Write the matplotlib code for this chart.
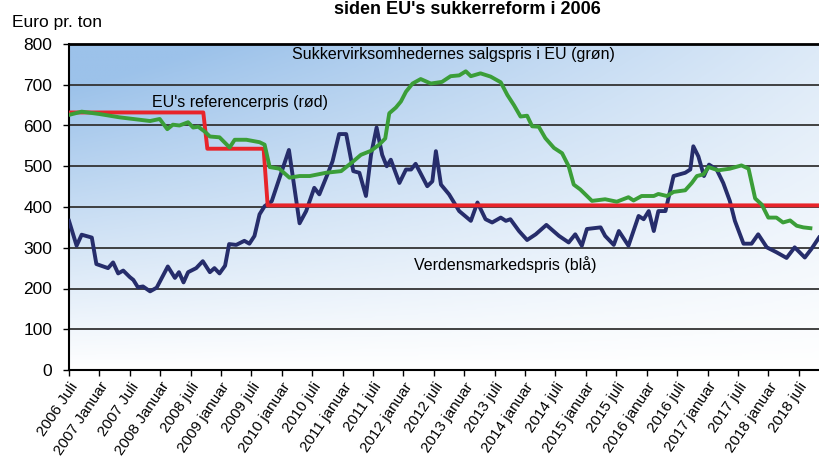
import numpy as np
import matplotlib
matplotlib.use('Agg')
from matplotlib import pyplot as plt
from matplotlib.colors import LinearSegmentedColormap

# maaneder efter 2006 juli
blaa_m = [0, 1.5, 2.5, 4.5, 5.4, 7.7, 8.7, 9.7, 10.7, 12, 12.7, 13.6, 14.6, 16, 17.3, 19.5,
          20.9, 21.7, 22.6, 23.5, 25.1, 26.4, 27.8, 28.7, 29.7, 30.8, 31.6, 33, 34.6, 35.6,
          36.6, 37.6, 38.6, 40, 43.4, 45.5, 46.8, 48.4, 49.4, 51, 52, 53.3, 54.7, 56.1, 57.3,
          58.6, 59.6, 60.7, 61.8, 62.7, 63.5, 65.2, 66.5, 67.5, 68.4, 70.7, 71.7, 72.4, 73.4,
          75, 77, 79.3, 80.6, 82.2, 83.5, 85.2, 86.2, 87.1, 88.8, 90.4, 92.1, 94.2, 96.7, 98.6,
          99.9, 101.2, 102.2, 104.9, 105.8, 107.5, 108.5, 110.4, 112.4, 113.4, 114.4, 115.4,
          116.3, 117.7, 119.3, 121.6, 122.6, 123.2, 124.2, 125.3, 126.3, 127.8, 129.1, 130.4,
          131.4, 133.1, 134.7, 136, 137.7, 139.6, 141.6, 143.2, 145.2, 146.5, 148]
blaa_v = [366, 305, 332, 325, 260, 250, 264, 237, 244, 228, 221, 203, 205, 193, 202, 254,
          226, 240, 215, 240, 250, 267, 240, 250, 237, 256, 309, 307, 317, 310,
          329, 382, 402, 414, 540, 360, 390, 447, 431, 480, 512, 579, 579, 488, 484,
          427, 528, 595, 528, 500, 516, 459, 492, 492, 506, 451, 463, 537, 455,
          431, 390, 366, 411, 370, 362, 374, 366, 370, 341, 319, 333, 356, 329, 313,
          333, 305, 346, 350, 329, 307, 341, 305, 378, 370, 390, 341,
          390, 390, 476, 484, 492, 549, 524, 476, 504, 492, 459, 415,
          366, 310, 310, 333, 301, 289, 275, 301, 276, 297, 325]

groen_m = [0, 2.5, 6.1, 10, 14, 16, 17.9, 19.4, 20.5, 21.8, 23.5, 24.5, 25.5, 26.8, 27.8,
           29.7, 31.7, 32.7, 35, 37.6, 38.6, 39.6, 41.5, 43.5, 45.5, 47.5, 50.7, 53.7, 56,
           57.6, 59.6, 61.2, 62.4, 63.2, 64.5, 65.5, 66.5, 67.8, 69.4, 71.4, 73.6, 75.3, 77,
           78.3, 79.3, 81.2, 83.2, 85.2, 86.5, 87.8, 89.1, 90.4, 91.4, 92.7, 94, 95.7, 97.3,
           98.6, 99.6, 100.9, 103.2, 105.8, 108.1, 110.4, 111.4, 113, 115.4, 116.3, 118, 119.3,
           121.6, 122.9, 123.9, 125.2, 126.2, 128.1, 130.4, 132.7, 134.1, 135.4, 136.7, 138,
           139.6, 140.9, 142.3, 143.6, 144.9, 146.3]
groen_v = [626, 634, 628, 620, 614, 611, 616, 591, 602, 600, 608, 595, 597, 585, 573,
           571, 546, 565, 565, 559, 553, 498, 494, 472, 476, 476, 484, 488, 511,
           528, 538, 553, 568, 630, 644, 659, 683, 703, 714, 703, 707, 721, 723,
           733, 721, 728, 720, 706, 675, 650, 622, 624, 598, 597, 569, 545, 532,
           500, 455, 443, 415, 419, 413, 424, 416, 427, 427, 432, 427, 437,
           441, 459, 476, 480, 498, 490, 494, 502, 494, 421, 406, 374,
           374, 362, 367, 354, 350, 348]

roed_m = [0, 26.5, 27.3, 38.4, 39.2, 148]
roed_v = [632, 632, 543, 543, 404, 404]

tick_labels = ['2006 Juli', '2007 Januar', '2007 Juli', '2008 Januar', '2008 juli',
               '2009 januar', '2009 juli', '2010 januar', '2010 juli', '2011 januar',
               '2011 juli', '2012 januar', '2012 juli', '2013 januar', '2013 juli',
               '2014 januar', '2014 juli', '2015 januar', '2015 juli', '2016 januar',
               '2016 juli', '2017 januar', '2017 juli', '2018 januar', '2018 juli']

plt.rcParams['font.family'] = ['Liberation Sans', 'DejaVu Sans']

fig = plt.figure(figsize=(8.19, 4.70), dpi=100)
ax = fig.add_axes([69 / 819, 1 - 370 / 470, 750 / 819, 326 / 470])

xmax = 148
# baggrund med blaa gradient
yy, xx = np.mgrid[0:1:200j, 0:1:300j]
b = np.clip(yy * (1 - 0.8 * xx) + 0.15 * yy, 0, 1)
cmap = LinearSegmentedColormap.from_list('bg', ['#ffffff', '#9cc2ea'])
ax.imshow(b, cmap=cmap, vmin=0, vmax=1, extent=[0, xmax, 0, 800], origin='lower',
          aspect='auto', zorder=0, interpolation='bilinear')

for v in range(100, 800, 100):
    ax.axhline(v, color='#333333', lw=1.3, zorder=1)

ax.plot(blaa_m, blaa_v, color='#262d6b', lw=2.8, zorder=3, solid_joinstyle='round')
ax.plot(roed_m, roed_v, color='#e8242a', lw=2.8, zorder=4)
ax.plot(groen_m, groen_v, color='#3b9e38', lw=2.8, zorder=5, solid_joinstyle='round')

ax.set_xlim(0, xmax)
ax.set_ylim(0, 800)
ax.set_yticks(range(0, 801, 100))
ax.set_xticks(range(0, 145, 6))
ax.set_xticklabels(tick_labels, rotation=56, ha='right', rotation_mode='anchor', fontsize=11)
ax.tick_params(axis='y', labelsize=12.5, length=4, width=1, pad=8)
ax.tick_params(axis='x', length=4, width=1, pad=3)
ax.spines['right'].set_visible(False)
for s in ['top', 'bottom', 'left']:
    ax.spines[s].set_linewidth(1.5)
ax.spines['top'].set_linewidth(2)

fig.text(292 / 819, 1 - 55 / 470, 'Sukkervirksomhedernes salgspris i EU (grøn)',
         fontsize=11.5, ha='left', va='center')
fig.text(152 / 819, 1 - 103 / 470, "EU's referencerpris (rød)",
         fontsize=11.5, ha='left', va='center')
fig.text(414 / 819, 1 - 265 / 470, 'Verdensmarkedspris (blå)',
         fontsize=11.5, ha='left', va='center')
fig.text(12 / 819, 1 - 26.5 / 470, 'Euro pr. ton', fontsize=12.5, ha='left', va='baseline')
fig.text(467 / 819, 1 - 1 / 470, "siden EU's sukkerreform i 2006", fontsize=13,
         fontweight='bold', ha='center', va='top')

fig.savefig('out.png', dpi=100)
